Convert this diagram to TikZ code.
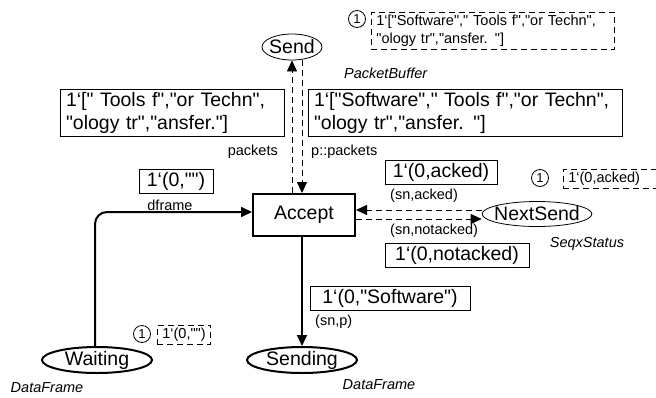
\documentclass[tikz,border=0pt]{standalone}
\usepackage{fontspec}
\newfontfamily\cpnfont{Liberation Sans}
\usetikzlibrary{positioning,shapes,arrows.meta}

\begin{document}
\begin{tikzpicture}[x=1pt,y=-1pt,
  place/.style={ellipse, draw, line width=0.8pt, inner xsep=-4pt, inner ysep=0pt, font=\cpnfont\fontsize{19.5}{22}\selectfont},
  bigplace/.style={place, line width=2pt},
  trans/.style={rectangle, draw, line width=2pt, minimum width=102pt, minimum height=42pt, font=\cpnfont\fontsize{19.5}{22}\selectfont},
  inscr/.style={rectangle, draw, line width=0.8pt, align=left, inner xsep=6pt, inner ysep=3pt, minimum height=24pt, font=\cpnfont\fontsize{19.5}{23}\selectfont},
  token/.style={rectangle, draw, line width=0.7pt, dash pattern=on 6pt off 4pt, align=left, inner xsep=5pt, inner ysep=3pt, font=\cpnfont\fontsize{14.5}{18}\selectfont},
  count/.style={circle, draw, line width=0.8pt, inner sep=0pt, minimum size=17pt, font=\cpnfont\fontsize{13}{13}\selectfont},
  lbl/.style={inner sep=1pt, font=\cpnfont\fontsize{14.5}{17}\selectfont},
  ctype/.style={inner sep=1pt, font=\cpnfont\fontsize{14.5}{17}\selectfont\itshape},
  arc/.style={line width=2pt, -{Triangle[length=11pt,width=10pt]}},
  pkt/.style={line width=0.8pt, dash pattern=on 6pt off 4pt, -{Triangle[length=11pt,width=10pt]}}
]
\clip (0,0) rectangle (656,397);

% Places
\node[place, minimum width=60pt, minimum height=26pt] (send) at (292,47) {Send};
\node[place, minimum width=108pt, minimum height=25pt] (nextsend) at (537,214) {NextSend};
\node[bigplace, minimum width=110pt, minimum height=26pt] (waiting) at (97,360) {Waiting};
\node[bigplace, minimum width=110pt, minimum height=26pt] (sending) at (302,360) {Sending};

% Transition
\node[trans] (accept) at (304,215) {Accept};

% Colour sets
\node[ctype, anchor=west] (tyBuffer) at (343,73) {PacketBuffer};
\node[ctype] (tyStatus) at (587,244) {SeqxStatus};
\node[ctype] (tyWaiting) at (47,388) {DataFrame};
\node[ctype] (tySending) at (379,385) {DataFrame};

% Initial markings
\node[count] (cntSend) at (357,19) {1};
\node[token, text width=233pt, anchor=west] (tokSend) at (371,31)
  {1‘["Software"," Tools f","or Techn",\\"ology tr","ansfer. "]};
\node[count] (cntNext) at (540,178) {1};
\node[token, text width=92pt, anchor=west] (tokNext) at (563,179) {1‘(0,acked)};
\node[count] (cntWait) at (142,334) {1};
\node[token, anchor=west] (tokWait) at (157,335) {1‘(0,"")};

% Current markings
\node[inscr, text width=212pt] (mkPackets) at (172,113)
  {1‘[" Tools f","or Techn",\\"ology tr","ansfer."]};
\node[inscr, text width=302pt] (mkSend) at (465,113)
  {1‘["Software"," Tools f","or Techn",\\"ology tr","ansfer. "]};
\node[inscr, minimum width=74pt] (mkWait) at (176,181) {1‘(0,"")};
\node[inscr, minimum width=112pt] (mkAcked) at (441,172) {1‘(0,acked)};
\node[inscr, minimum width=144pt] (mkNotacked) at (457,255) {1‘(0,notacked)};
\node[inscr, minimum width=160pt] (mkSending) at (390,298) {1‘(0,"Software")};

% Arc inscriptions
\node[lbl, anchor=east] (lblPackets) at (279,152) {packets};
\node[lbl, anchor=west] (lblPP) at (310,152) {p::packets};
\node[lbl] (lblFrame) at (170,205) {dframe};
\node[lbl, anchor=west] (lblAcked) at (389,196) {(sn,acked)};
\node[lbl, anchor=west] (lblNotacked) at (389,231) {(sn,notacked)};
\node[lbl, anchor=west] (lblSnp) at (314,322) {(sn,p)};

% Arcs
\draw[pkt] (send.south |- accept.north) -- (send.south);
\draw[pkt] ([xshift=10pt]send.south) -- ([xshift=-2pt]accept.north);
\draw[pkt] ([yshift=4pt]nextsend.west) -- ([yshift=4pt]nextsend.west -| accept.east);
\draw[pkt] ([yshift=-4pt]accept.east) -- ([yshift=-4pt]accept.east -| nextsend.west);
\draw[arc, rounded corners=12pt] ([xshift=-2pt]waiting.north) |- ([yshift=3pt]accept.west);
\draw[arc] (accept.south -| sending.north) -- (sending.north);

\end{tikzpicture}
\end{document}
